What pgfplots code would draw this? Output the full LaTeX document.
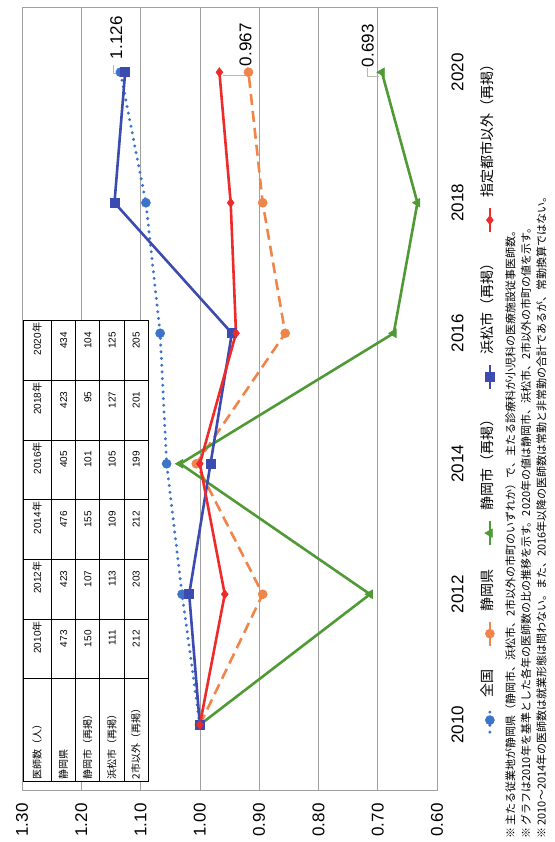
\documentclass[border=0pt]{standalone}
\usepackage{fontspec}
\setmainfont{Liberation Sans}
\newfontfamily\jp{Noto Sans CJK JP}
\usepackage{array}
\usepackage{pgfplots}
\pgfplotsset{compat=1.18}

\definecolor{natl}{HTML}{3B74C9}
\definecolor{pref}{HTML}{F0854A}
\definecolor{shizc}{HTML}{4F9A35}
\definecolor{hama}{HTML}{3C4BB0}
\definecolor{other}{HTML}{EE2A2A}
\definecolor{gridc}{HTML}{A0A0A0}
\definecolor{leader}{HTML}{B8B8B8}

% row struts for the doctor-count table
\newcommand{\hs}{\rule[-10pt]{0pt}{27pt}}
\newcommand{\bs}{\rule[-8pt]{0pt}{23.5pt}}
\newcommand{\nm}[1]{#1\kern9pt}

\begin{document}
\begin{tikzpicture}[x=1pt,y=1pt]
\begin{axis}[
  at={(22pt,52pt)}, anchor=south west,
  scale only axis, width=415pt, height=783pt,
  xmin=0.6, xmax=1.3, x dir=reverse,
  ymin=-0.5, ymax=5.5,
  xtick={0.6,0.7,0.8,0.9,1.0,1.1,1.2,1.3},
  ytick={0,1,2,3,4,5},
  yticklabels={2010,2012,2014,2016,2018,2020},
  yticklabel pos=right,
  major tick length=0pt,
  xmajorgrids,
  grid style={gridc, line width=0.7pt},
  axis line style={gridc, line width=0.7pt},
  /pgf/number format/assume math mode=true,
  xticklabel style={/pgf/number format/fixed, /pgf/number format/fixed zerofill,
    /pgf/number format/precision=2,
    rotate=90, anchor=east, font=\fontsize{17}{17}\selectfont},
  yticklabel style={rotate=90, anchor=north, font=\fontsize{17}{17}\selectfont},
  xticklabel shift=10pt, yticklabel shift=11pt,
  clip=false,
  legend columns=1,
  reverse legend,
  legend style={at={(axis description cs:1.128,0.504)}, anchor=center,
    draw=none, fill=none,
    font=\jp\fontsize{14}{14}\selectfont,
    nodes={rotate=90, anchor=west, inner sep=1pt},
    row sep=22pt,
    /tikz/every odd column/.append style={column sep=-14.5pt}},
  legend image code/.code={\draw[mark repeat=2,mark phase=2,#1]
    plot coordinates {(0pt,-33pt) (0pt,-21pt) (0pt,-9pt)};},
]
% national
\addplot[natl, line width=3.3pt, line cap=round, dash pattern=on 0pt off 6.7pt,
  mark=*, mark size=4.5pt, mark options={solid, line width=0.6pt}]
  coordinates {(1.000,0) (1.030,1) (1.056,2) (1.067,3) (1.091,4) (1.134,5)};
\addlegendentry{全国}
% Shizuoka prefecture
\addplot[pref, line width=2.6pt, dash pattern=on 11pt off 6pt,
  mark=*, mark size=4.5pt, mark options={solid, line width=0.6pt}]
  coordinates {(1.000,0) (0.894,1) (1.006,2) (0.856,3) (0.894,4) (0.918,5)};
\addlegendentry{静岡県}
% Shizuoka city
\addplot[shizc, line width=2.6pt,
  mark=triangle*, mark size=5pt, mark options={solid, rotate=90, line width=0.6pt}]
  coordinates {(1.000,0) (0.713,1) (1.033,2) (0.673,3) (0.633,4) (0.693,5)};
\addlegendentry{静岡市（再掲）}
% Hamamatsu city
\addplot[hama, line width=2.6pt,
  mark=square*, mark size=4.5pt, mark options={solid, line width=0.6pt}]
  coordinates {(1.000,0) (1.018,1) (0.982,2) (0.946,3) (1.144,4) (1.126,5)};
\addlegendentry{浜松市（再掲）}
% outside the two designated cities
\addplot[other, line width=2.6pt,
  mark=diamond*, mark size=4.5pt, mark options={solid, line width=0.6pt}]
  coordinates {(1.000,0) (0.958,1) (1.000,2) (0.939,3) (0.948,4) (0.967,5)};
\addlegendentry{指定都市以外（再掲）}

% value labels for 2020
\draw[leader, line width=0.6pt] (axis cs:1.126,5) ++(-5pt,-1pt) -- ++(-7pt,0pt) -- ++(0pt,8pt);
\node[rotate=90, anchor=west, inner sep=1pt, font=\fontsize{17}{17}\selectfont]
  at ([xshift=-9pt, yshift=12pt]axis cs:1.126,5) {1.126};
\draw[leader, line width=0.6pt] (axis cs:0.967,5) ++(4pt,-3pt) -- ++(24pt,0pt) -- ++(0pt,8pt);
\node[rotate=90, anchor=west, inner sep=1pt, font=\fontsize{17}{17}\selectfont]
  at ([xshift=26pt, yshift=5pt]axis cs:0.967,5) {0.967};
\draw[leader, line width=0.6pt] (axis cs:0.693,5) ++(-3pt,-4pt) -- ++(-12pt,0pt) -- ++(0pt,8pt);
\node[rotate=90, anchor=west, inner sep=1pt, font=\fontsize{17}{17}\selectfont]
  at ([xshift=-14pt, yshift=4pt]axis cs:0.693,5) {0.693};
\end{axis}

% doctor counts
\node[rotate=90, anchor=north west, inner sep=0pt, fill=white,
  font=\fontsize{10}{12}\selectfont] at (23,60) {%
  \setlength{\tabcolsep}{2pt}\setlength{\arrayrulewidth}{0.7pt}%
  \begin{tabular}{|>{\raggedright\arraybackslash}p{98pt}|*{6}{>{\raggedleft\arraybackslash}p{55pt}|}}
  \hline
  \hs{\jp 医師数（人）} & 2010{\jp 年} & 2012{\jp 年} & 2014{\jp 年} & 2016{\jp 年} & 2018{\jp 年} & 2020{\jp 年}\\ \hline
  \bs{\jp 静岡県} & \nm{473} & \nm{423} & \nm{476} & \nm{405} & \nm{423} & \nm{434}\\ \hline
  \bs{\jp 静岡市（再掲）} & \nm{150} & \nm{107} & \nm{155} & \nm{101} & \nm{95} & \nm{104}\\ \hline
  \bs{\jp 浜松市（再掲）} & \nm{111} & \nm{113} & \nm{109} & \nm{105} & \nm{127} & \nm{125}\\ \hline
  \bs{\jp 2市以外（再掲）} & \nm{212} & \nm{203} & \nm{212} & \nm{199} & \nm{201} & \nm{205}\\ \hline
  \end{tabular}};

% notes
\node[rotate=90, anchor=north west, align=left, inner sep=0pt,
  font=\jp\fontsize{11}{15.5}\selectfont] at (505,3) {%
  ※ 主たる従業地が静岡県（静岡市、浜松市、2市以外の市町のいずれか）で、主たる診療科が小児科の医療施設従事医師数。\\
  ※ グラフは2010年を基準とした各年の医師数の比の推移を示す。2020年の値は静岡市、浜松市、2市以外の市町の値を示す。\\
  ※ 2010～2014年の医師数は就業形態は問わない。また、2016年以降の医師数は常勤と非常勤の合計であるが、常勤換算ではない。};

\pgfresetboundingbox
\useasboundingbox (0,0) rectangle (554,842);
\end{tikzpicture}
\end{document}
